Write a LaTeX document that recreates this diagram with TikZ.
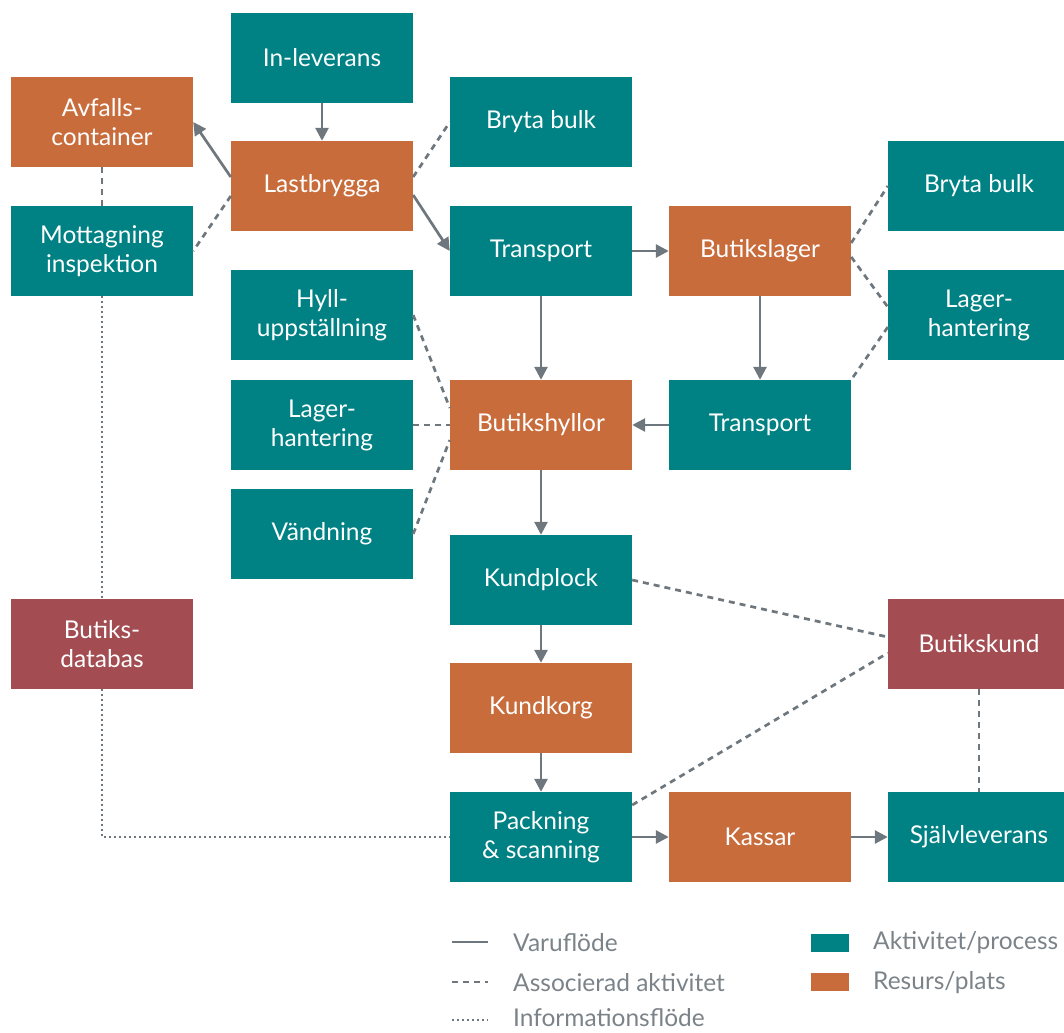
\documentclass[tikz,border=0pt]{standalone}
\usepackage{fontspec}
\setmainfont{Lato}
\usetikzlibrary{arrows.meta,positioning}
\definecolor{tealbox}{HTML}{008184}
\definecolor{rustbox}{HTML}{C96C3C}
\definecolor{winebox}{HTML}{A34D52}
\definecolor{linegray}{HTML}{6E777D}
\definecolor{textgray}{HTML}{7B8389}

\begin{document}
\begin{tikzpicture}[x=1pt,y=-1pt,
    box/.style={minimum width=182pt, minimum height=90pt, inner sep=0pt,
      text=white, align=center, font=\fontsize{24.5}{29}\selectfont},
    act/.style={box, fill=tealbox},
    res/.style={box, fill=rustbox},
    cust/.style={box, fill=winebox},
    flow/.style={draw=linegray, line width=2.7pt, -{Triangle[length=13pt,width=13pt]}},
    assoc/.style={draw=linegray, line width=2.7pt, dash pattern=on 6pt off 5pt},
    infoline/.style={draw=linegray, line width=2.7pt, dash pattern=on 2pt off 3pt},
    legtext/.style={anchor=west, inner sep=0pt, text=textgray, font=\fontsize{24.5}{28}\selectfont}]
\useasboundingbox (0,0) rectangle (1064,1032);

% boxes
\node[act]  (inlev)  at (322,58)  {In-leverans};
\node[res]  (avf)    at (102,122) {Avfalls-\\container};
\node[act]  (bb1)    at (541,122) {Bryta bulk};
\node[res]  (last)   at (322,186) {Lastbrygga};
\node[act]  (bb2)    at (979,186) {Bryta bulk};
\node[act]  (mott)   at (102,251) {Mottagning\\inspektion};
\node[act]  (tr1)    at (541,251) {Transport};
\node[res]  (blager) at (760,251) {Butikslager};
\node[act]  (hyll)   at (322,315) {Hyll-\\uppställning};
\node[act]  (lh2)    at (979,315) {Lager-\\hantering};
\node[act]  (lh1)    at (322,425) {Lager-\\hantering};
\node[res]  (hyllor) at (541,425) {Butikshyllor};
\node[act]  (tr2)    at (760,425) {Transport};
\node[act]  (vand)   at (322,534) {Vändning};
\node[act]  (kplock) at (541,580) {Kundplock};
\node[cust] (db)     at (102,644) {Butiks-\\databas};
\node[cust] (bkund)  at (979,644) {Butikskund};
\node[res]  (korg)   at (541,708) {Kundkorg};
\node[act]  (pack)   at (541,837) {Packning\\\& scanning};
\node[res]  (kassar) at (760,837) {Kassar};
\node[act]  (sjalv)  at (979,837) {Självleverans};

% varuflöde
\draw[flow] (inlev) -- (last);
\draw[flow] ([yshift=9pt]last.west) -- (avf.east);
\draw[flow] ([yshift=-9pt]last.east) -- (tr1.west);
\draw[flow] (tr1) -- (blager);
\draw[flow] (tr1) -- (hyllor);
\draw[flow] (blager) -- (tr2);
\draw[flow] (tr2) -- (hyllor);
\draw[flow] (hyllor) -- (kplock);
\draw[flow] (kplock) -- (korg);
\draw[flow] (korg) -- (pack);
\draw[flow] (pack) -- (kassar);
\draw[flow] (kassar) -- (sjalv);

% associerade aktiviteter
\draw[assoc] ([yshift=9pt]last.east) -- (bb1.west);
\draw[assoc] ([yshift=-10pt]last.west) -- (mott.east);
\draw[assoc] (avf) -- (mott);
\draw[assoc] ([yshift=8pt]blager.east) -- (bb2.west);
\draw[assoc] ([yshift=-6pt]blager.east) -- ([yshift=8pt]lh2.west);
\draw[assoc] ([yshift=-12pt]lh2.west) -- (tr2.north east);
\draw[assoc] (hyll.east) -- ([yshift=17pt]hyllor.west);
\draw[assoc] (lh1) -- (hyllor);
\draw[assoc] (vand.east) -- ([yshift=-15pt]hyllor.west);
\draw[assoc] (kplock.east) -- ([yshift=7pt]bkund.west);
\draw[assoc] ([yshift=32pt]pack.east) -- ([yshift=-9pt]bkund.west);
\draw[assoc] (bkund) -- (sjalv);

% informationsflöde
\draw[infoline] (mott) -- (db);
\draw[infoline] (db.south) |- (pack.west);

% legend
\draw[draw=linegray, line width=2.7pt] (452,942) -- (488,942);
\draw[assoc] (452,982) -- (488,982);
\draw[infoline] (452,1020) -- (488,1020);
\node[legtext] (l1) at (513,943)  {Varuflöde};
\node[legtext] (l2) at (513,983)  {Associerad aktivitet};
\node[legtext] (l3) at (513,1018) {Informationsflöde};
\fill[tealbox] (811,934) rectangle (849,952);
\fill[rustbox] (811,973) rectangle (849,991);
\node[legtext] (l4) at (873,943) {Aktivitet/process};
\node[legtext] (l5) at (873,983) {Resurs/plats};
\end{tikzpicture}
\end{document}
